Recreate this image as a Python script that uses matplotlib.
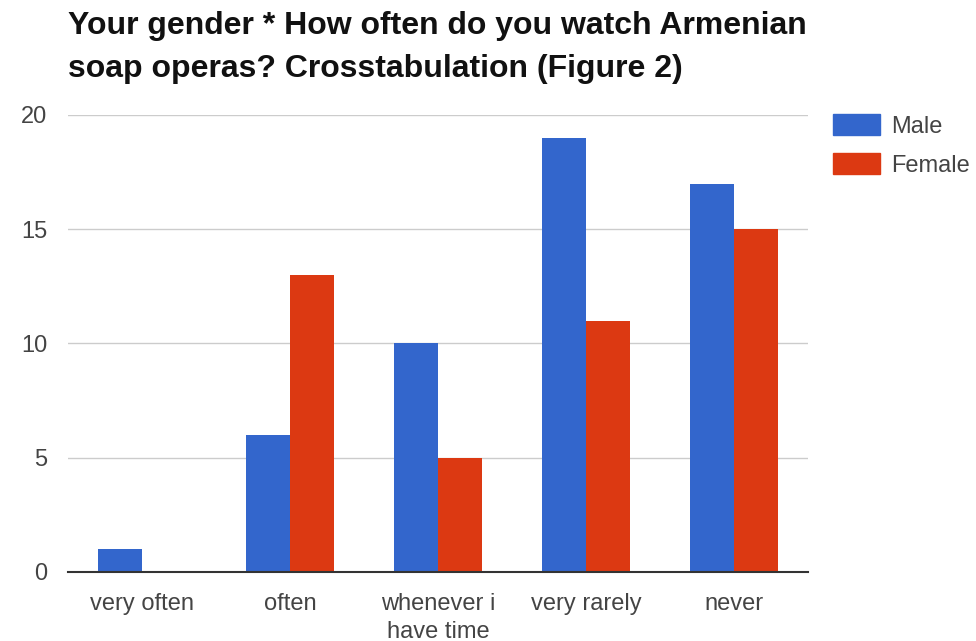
import matplotlib
matplotlib.use("Agg")
import matplotlib.pyplot as plt
import numpy as np
from matplotlib.patches import Patch

categories = ["very often", "often", "whenever i\nhave time", "very rarely", "never"]
male = [1, 6, 10, 19, 17]
female = [0, 13, 5, 11, 15]
series_names = ["Male", "Female"]
colors = ["#3366cc", "#dc3912"]
yticks = [0, 5, 10, 15, 20]

plt.rcParams['font.family'] = ['Liberation Sans', 'DejaVu Sans']

fig = plt.figure(figsize=(9.76, 6.41), dpi=100)
ax = fig.add_axes([68/976, 1-572/641, (808-68)/976, (572-115)/641])

x = np.arange(len(categories))
w = 0.30
ax.bar(x - w/2, male, w, color=colors[0], zorder=3)
ax.bar(x + w/2, female, w, color=colors[1], zorder=3)

ax.set_xlim(-0.5, len(categories)-0.5)
ax.set_ylim(0, 20)
ax.set_yticks(yticks)
ax.set_yticklabels([str(v) for v in yticks], fontsize=17, color="#444444")
ax.set_xticks(x)
ax.set_xticklabels(categories, fontsize=17, color="#444444", linespacing=1.35)
ax.tick_params(axis='both', length=0)
ax.tick_params(axis='y', pad=15)
ax.tick_params(axis='x', pad=15)
ax.grid(axis='y', color="#cccccc", linewidth=1, zorder=0)
for s in ["top", "right", "left"]:
    ax.spines[s].set_visible(False)
ax.spines["bottom"].set_color("#333333")
ax.spines["bottom"].set_linewidth(1.5)
ax.spines["bottom"].set_zorder(4)

fig.text(68/976, 1-11/641, "Your gender * How often do you watch Armenian\nsoap operas? Crosstabulation (Figure 2)",
         fontsize=23, fontweight='bold', color="#111111", va='top', ha='left', linespacing=1.55)

handles = [Patch(facecolor=c, edgecolor=c) for c in colors]
fig.legend(handles, series_names, loc='upper left', bbox_to_anchor=(833/976, 1-114/641),
           frameon=False, fontsize=17, handlelength=2.0, handleheight=1.0,
           handletextpad=0.45, labelspacing=0.65, labelcolor="#444444",
           borderaxespad=0, borderpad=0)

fig.savefig("out.png", dpi=100, facecolor="white")
